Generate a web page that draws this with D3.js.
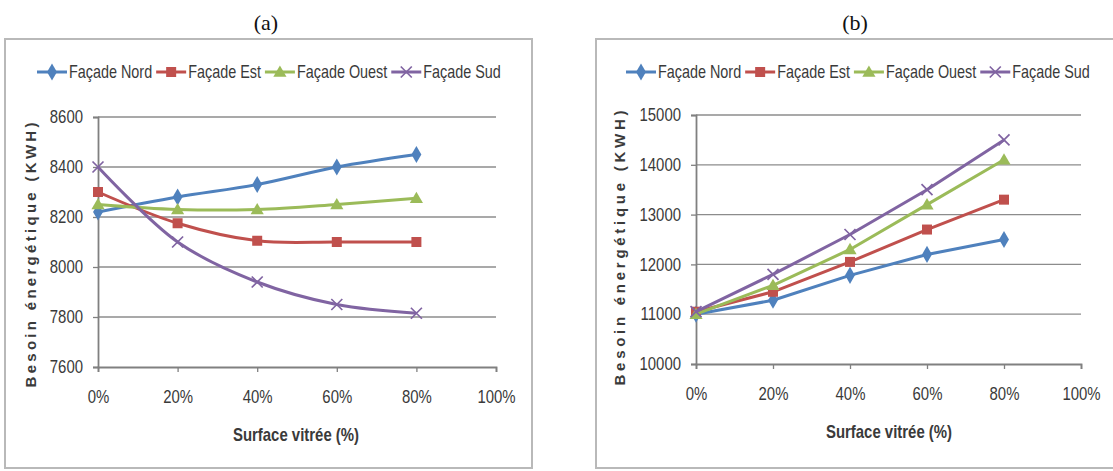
<!DOCTYPE html>
<html>
<head>
<meta charset="utf-8">
<script src="https://cdn.jsdelivr.net/npm/d3@7"></script>
<style>
  html, body { margin: 0; padding: 0; background: #fff; }
  svg { display: block; }
</style>
</head>
<body>
<svg id="fig" width="1113" height="471"></svg>
<script>
// Glazed surface share on the x axis (percent)
const surfaceValues = [0, 20, 40, 60, 80];
const surfaceTicks = [0, 20, 40, 60, 80, 100];
const seriesNames = ["Façade Nord", "Façade Est", "Façade Ouest", "Façade Sud"];
const seriesColors = ["#4F81BD", "#C0504D", "#9BBB59", "#8064A2"];
const seriesMarkers = ["diamond", "square", "triangle", "cross"];

// (a) energy demand, kWh
const nordA = [8220, 8280, 8330, 8400, 8450];
const estA = [8300, 8175, 8105, 8100, 8100];
const ouestA = [8250, 8230, 8230, 8250, 8275];
const sudA = [8400, 8100, 7940, 7850, 7815];
const ticksA = [7600, 7800, 8000, 8200, 8400, 8600];

// (b) energy demand, kWh
const nordB = [11000, 11280, 11780, 12200, 12500];
const estB = [11050, 11450, 12050, 12700, 13300];
const ouestB = [11000, 11580, 12300, 13200, 14100];
const sudB = [11050, 11800, 12600, 13500, 14500];
const ticksB = [10000, 11000, 12000, 13000, 14000, 15000];

const svg = d3.select("#fig");
const labelFont = "'Liberation Sans', Arial, sans-serif";
const textColor = "#3a3a3a";
const narrow = 0.83;   // horizontal squeeze for the condensed label look
const legendNarrow = 0.8;
const labelSize = 18;

function marker(g, type, x, y, color) {
  if (type === "diamond") {
    g.append("path").attr("d", d3.symbol(d3.symbolDiamond, 85)())
      .attr("transform", `translate(${x},${y})`).attr("fill", color);
  } else if (type === "square") {
    g.append("rect").attr("x", x - 5).attr("y", y - 5).attr("width", 10).attr("height", 10)
      .attr("fill", color);
  } else if (type === "triangle") {
    g.append("path").attr("d", d3.symbol(d3.symbolTriangle, 75)())
      .attr("transform", `translate(${x},${y + 1})`).attr("fill", color);
  } else {
    g.append("path").attr("d", `M${x - 5.5},${y - 5.5}L${x + 5.5},${y + 5.5}M${x - 5.5},${y + 5.5}L${x + 5.5},${y - 5.5}`)
      .attr("stroke", color).attr("stroke-width", 1.7).attr("fill", "none");
  }
}

function squeezedText(g, x, y, str, size, anchor, weight, squeeze) {
  return g.append("text").attr("transform", `translate(${x},${y}) scale(${squeeze || narrow},1)`)
    .attr("text-anchor", anchor).attr("font-family", labelFont).attr("font-size", size)
    .attr("font-weight", weight || "normal").attr("fill", textColor).text(str);
}

function drawChart(cfg) {
  const g = svg.append("g");

  // outer frame
  g.append("rect").attr("x", cfg.frame[0]).attr("y", cfg.frame[1])
    .attr("width", cfg.frame[2] - cfg.frame[0]).attr("height", cfg.frame[3] - cfg.frame[1])
    .attr("fill", "#fff").attr("stroke", "#b9b9b9").attr("stroke-width", 2);

  // panel letter above the frame
  g.append("text").attr("x", cfg.titleX).attr("y", 30).attr("text-anchor", "middle")
    .attr("font-family", "'Liberation Serif', 'Times New Roman', serif").attr("font-size", 22)
    .attr("fill", "#111").text(cfg.title);

  const x = d3.scaleLinear().domain([0, 100]).range([cfg.plot[0], cfg.plot[2]]);
  const y = d3.scaleLinear().domain(cfg.yDomain).range([cfg.plot[3], cfg.plot[1]]);

  // horizontal gridlines
  g.append("g").selectAll("line").data(cfg.ticks.slice(1)).join("line")
    .attr("x1", cfg.plot[0]).attr("x2", cfg.plot[2])
    .attr("y1", d => y(d)).attr("y2", d => y(d))
    .attr("stroke", "#8c8c8c").attr("stroke-width", 1.3);

  // axes
  const xAxis = g.append("g").attr("transform", `translate(0,${cfg.plot[3]})`)
    .call(d3.axisBottom(x).tickValues(surfaceTicks).tickSize(5).tickPadding(18).tickFormat(d => d + "%"));
  const yAxis = g.append("g").attr("transform", `translate(${cfg.plot[0]},0)`)
    .call(d3.axisLeft(y).tickValues(cfg.ticks).tickSize(5).tickPadding(10).tickFormat(d3.format("d")));
  [xAxis, yAxis].forEach(a => {
    a.select(".domain").attr("stroke", "#808080").attr("stroke-width", 1.8);
    a.selectAll(".tick line").attr("stroke", "#808080").attr("stroke-width", 1.3);
    a.selectAll(".tick text").attr("font-family", labelFont).attr("font-size", labelSize)
      .attr("fill", textColor).attr("transform", `scale(${narrow},1)`);
  });
  yAxis.selectAll(".tick text").attr("x", -15 / narrow);

  // axis titles
  squeezedText(g, cfg.xTitle[0], cfg.xTitle[1], "Surface vitrée (%)", labelSize, "middle", "bold");
  g.append("text").attr("transform", `translate(${cfg.yTitle[0]},${cfg.yTitle[1]}) rotate(-90)`)
    .attr("text-anchor", "middle").attr("font-family", labelFont)
    .attr("font-size", 15).attr("font-weight", "bold").attr("fill", textColor)
    .attr("textLength", cfg.yTitle[2]).attr("lengthAdjust", "spacing")
    .text("Besoin énergétique (KWH)");

  // series
  const line = d3.line().x((d, i) => x(surfaceValues[i])).y(d => y(d)).curve(cfg.curve);
  cfg.series.forEach((vals, k) => {
    g.append("path").attr("d", line(vals)).attr("fill", "none")
      .attr("stroke", seriesColors[k]).attr("stroke-width", 3).attr("stroke-linejoin", "round");
    vals.forEach((v, i) => marker(g, seriesMarkers[k], x(surfaceValues[i]), y(v), seriesColors[k]));
  });

  // legend
  const leg = g.append("g");
  let lx = cfg.legend[0];
  const ly = cfg.legend[1];
  seriesNames.forEach((name, k) => {
    leg.append("line").attr("x1", lx).attr("x2", lx + 30).attr("y1", ly).attr("y2", ly)
      .attr("stroke", seriesColors[k]).attr("stroke-width", 3);
    marker(leg, seriesMarkers[k], lx + 15, ly, seriesColors[k]);
    const t = squeezedText(leg, lx + 32, ly + 6, name, labelSize, "start", "normal", legendNarrow);
    lx += 32 + t.node().getComputedTextLength() * legendNarrow + 4;
  });
}

drawChart({
  title: "(a)", titleX: 266,
  frame: [5, 39, 532, 468],
  plot: [98, 117, 496, 367],
  yDomain: [7600, 8600], ticks: ticksA,
  series: [nordA, estA, ouestA, sudA],
  curve: d3.curveCatmullRom.alpha(0.5),
  xTitle: [296, 441], yTitle: [36, 255, 265],
  legend: [37, 72]
});

drawChart({
  title: "(b)", titleX: 855,
  frame: [596, 39, 1125, 468],
  plot: [696, 115, 1081, 364],
  yDomain: [10000, 15000], ticks: ticksB,
  series: [nordB, estB, ouestB, sudB],
  curve: d3.curveLinear,
  xTitle: [889, 438], yTitle: [625, 248, 275],
  legend: [626, 72]
});
</script>
</body>
</html>
